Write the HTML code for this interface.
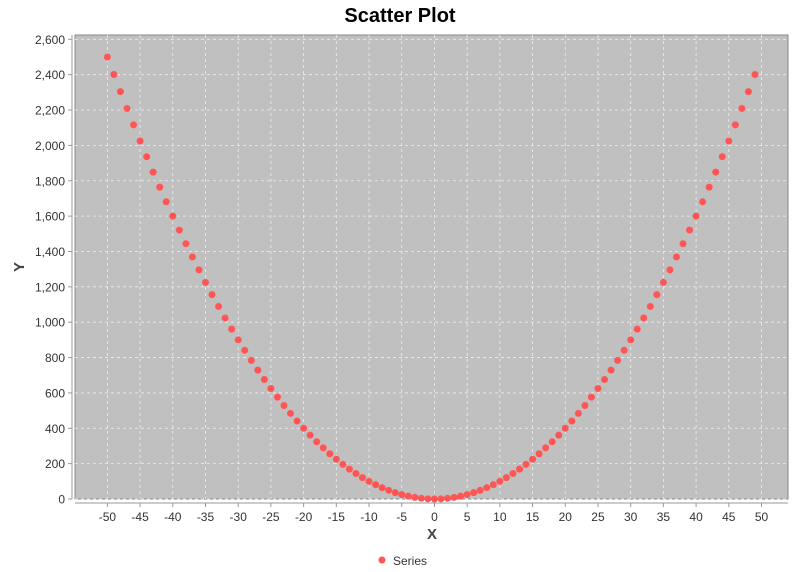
<!DOCTYPE html>
<html><head><meta charset="utf-8"><style>
body{margin:0;background:#fff;}
svg{display:block;font-family:"Liberation Sans","DejaVu Sans",sans-serif;}
</style></head><body>
<svg id="chart" width="800" height="572" viewBox="0 0 800 572" xmlns="http://www.w3.org/2000/svg">
<text x="400" y="22" text-anchor="middle" font-size="20" font-weight="bold" fill="#000">Scatter Plot</text>
<rect x="75" y="35" width="713" height="464" fill="#c0c0c0" stroke="#888" stroke-width="1"/>
<g id="grid"></g>
<line x1="72" y1="35" x2="72" y2="499" stroke="#999"/>
<line x1="75" y1="503" x2="788" y2="503" stroke="#999"/>
<g id="yticks"></g>
<g id="xticks"></g>
<g id="points"></g>
<text x="432" y="539" text-anchor="middle" font-size="15" font-weight="bold" fill="#444">X</text>
<text transform="translate(24,267) rotate(-90)" text-anchor="middle" font-size="15" font-weight="bold" fill="#444">Y</text>
<g>
<circle cx="382" cy="560" r="3.5" fill="#ff5555"/>
<text x="393" y="565" font-size="12" fill="#333">Series</text>
</g>
</svg>
<script>
const xValues = [];
for (let i = -50; i <= 49; i++) xValues.push(i);
const yValues = [2500,2401,2304,2209,2116,2025,1936,1849,1764,1681,1600,1521,1444,1369,1296,1225,1156,1089,1024,961,900,841,784,729,676,625,576,529,484,441,400,361,324,289,256,225,196,169,144,121,100,81,64,49,36,25,16,9,4,1,0,1,4,9,16,25,36,49,64,81,100,121,144,169,196,225,256,289,324,361,400,441,484,529,576,625,676,729,784,841,900,961,1024,1089,1156,1225,1296,1369,1444,1521,1600,1681,1764,1849,1936,2025,2116,2209,2304,2401];
const xTicks = [-50,-45,-40,-35,-30,-25,-20,-15,-10,-5,0,5,10,15,20,25,30,35,40,45,50];
const yTicks = [0,200,400,600,800,1000,1200,1400,1600,1800,2000,2200,2400,2600];
const PL=75,PR=788,PT=35,PB=499;
const XMIN=-54.95,XMAX=54.05,YMIN=0,YMAX=2624.4;
const sx=v=>PL+(v-XMIN)/(XMAX-XMIN)*(PR-PL);
const sy=v=>PB-(v-YMIN)/(YMAX-YMIN)*(PB-PT);
const NS="http://www.w3.org/2000/svg";
const mk=(t,a,p)=>{const e=document.createElementNS(NS,t);for(const k in a)e.setAttribute(k,a[k]);p.appendChild(e);return e;};
const grid=document.getElementById('grid'),xt=document.getElementById('xticks'),yt=document.getElementById('yticks'),pts=document.getElementById('points');
xTicks.forEach(v=>{const x=sx(v);
 const g=mk('line',{x1:x,y1:PT,x2:x,y2:PB,stroke:'#eee','stroke-width':0.8,'stroke-dasharray':'3,3'},grid);
 
 
 mk('line',{x1:x,y1:503,x2:x,y2:507,stroke:'#999'},xt);
 const t=mk('text',{x:x,y:521,'text-anchor':'middle','font-size':12,fill:'#333'},xt);t.textContent=v;
 
 
});
yTicks.forEach(v=>{const y=sy(v);
 const g=mk('line',{x1:PL,y1:y,x2:PR,y2:y,stroke:'#eee','stroke-width':0.8,'stroke-dasharray':'3,3'},grid);
 
 
 mk('line',{x1:68,y1:y,x2:72,y2:y,stroke:'#999'},yt);
 const t=mk('text',{x:65,y:y+4.5,'text-anchor':'end','font-size':12,fill:'#333'},yt);t.textContent=v.toLocaleString('en-US');
 
 
});
xValues.forEach((xv,i)=>{
 const c=mk('circle',{cx:sx(xv),cy:sy(yValues[i]),r:3.5,fill:'#ff5555'},pts);
 
 
});
</script>
</body></html>
